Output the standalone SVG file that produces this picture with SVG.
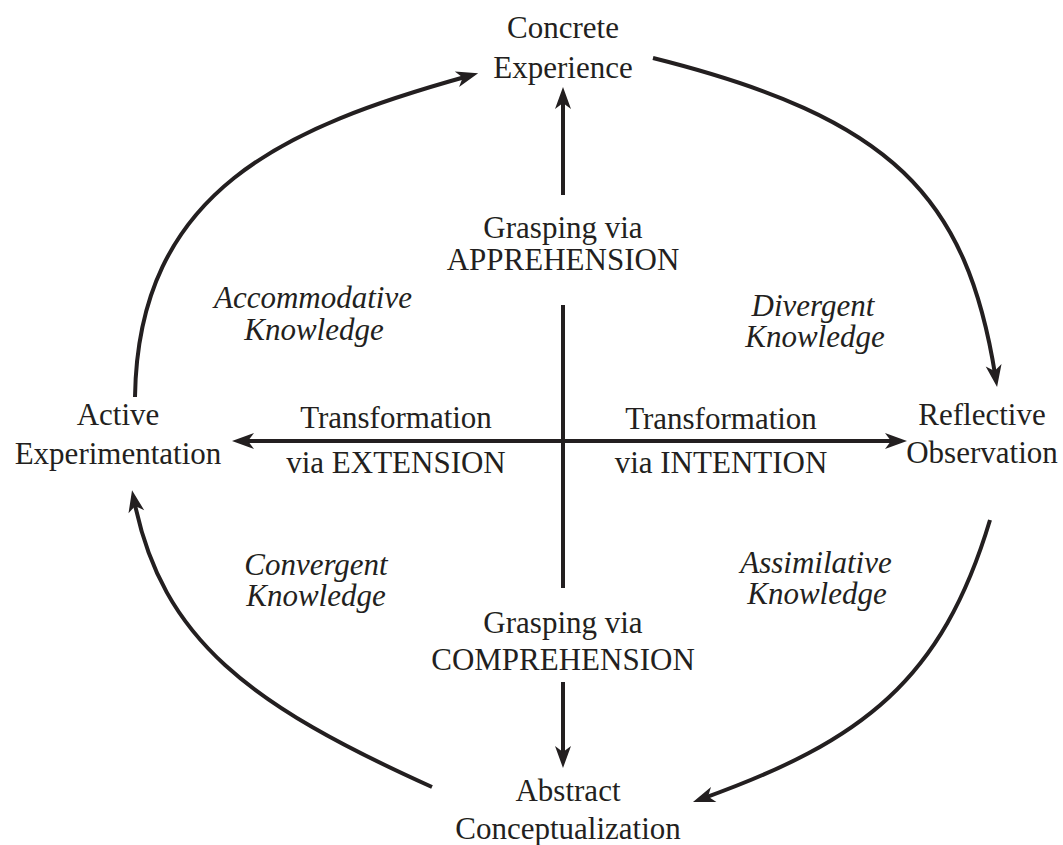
<svg xmlns="http://www.w3.org/2000/svg" width="1063" height="845" viewBox="0 0 1063 845">
  <style>
    text { font-family: "Liberation Serif", "Times New Roman", serif; font-size: 31px; fill: #231f20; text-anchor: middle; }
    .it { font-style: italic; }
    .conn { fill: none; stroke: #231f20; stroke-width: 4; }
    .arrow { marker-end: url(#head); }
  </style>
  <defs>
    <marker id="head" markerUnits="userSpaceOnUse" viewBox="-14 -10 26 20" markerWidth="26" markerHeight="20" refX="0" refY="0" orient="auto-start-reverse">
      <path d="M10,0 L-12,-8 L-6,0 L-12,8 Z" fill="#231f20"/>
    </marker>
  </defs>

  <rect width="1063" height="845" fill="#ffffff"/>

  <!-- connectors -->
  <g id="connectors">
    <!-- learning cycle arcs -->
    <path class="conn arrow" d="M135,397 C138,190 285,127 468.5,76"/>
    <path class="conn arrow" d="M653,58 C893,118 967,197 995.5,377"/>
    <path class="conn arrow" d="M990,520 C942,680 863,741 702.4,798.6"/>
    <path class="conn arrow" d="M432,787 C250,705 162,640 134,500"/>
    <!-- grasping axis -->
    <path class="conn arrow" d="M563,195 L563,97"/>
    <path class="conn" d="M563,305 L563,588"/>
    <path class="conn arrow" d="M563,682 L563,758"/>
    <!-- transformation axis -->
    <path class="conn" d="M242,441 L897,441" marker-start="url(#head)" marker-end="url(#head)"/>
  </g>

  <!-- modes of the cycle -->
  <g id="concrete-experience">
    <text x="563" y="38">Concrete</text>
    <text x="563" y="78">Experience</text>
  </g>
  <g id="reflective-observation">
    <text x="982" y="425">Reflective</text>
    <text x="982" y="463">Observation</text>
  </g>
  <g id="abstract-conceptualization">
    <text x="568" y="801">Abstract</text>
    <text x="568" y="839">Conceptualization</text>
  </g>
  <g id="active-experimentation">
    <text x="118" y="425">Active</text>
    <text x="118" y="464">Experimentation</text>
  </g>

  <!-- axis labels -->
  <g id="apprehension">
    <text x="563" y="238">Grasping via</text>
    <text x="563" y="270">APPREHENSION</text>
  </g>
  <g id="comprehension">
    <text x="563" y="633">Grasping via</text>
    <text x="563" y="670">COMPREHENSION</text>
  </g>
  <g id="extension">
    <text x="396" y="428">Transformation</text>
    <text x="396" y="473">via EXTENSION</text>
  </g>
  <g id="intention">
    <text x="721" y="429">Transformation</text>
    <text x="721" y="473">via INTENTION</text>
  </g>

  <!-- knowledge forms -->
  <g id="accommodative">
    <text class="it" x="313" y="308">Accommodative</text>
    <text class="it" x="314" y="340">Knowledge</text>
  </g>
  <g id="divergent">
    <text class="it" x="813" y="316">Divergent</text>
    <text class="it" x="815" y="347">Knowledge</text>
  </g>
  <g id="convergent">
    <text class="it" x="316" y="575">Convergent</text>
    <text class="it" x="316" y="606">Knowledge</text>
  </g>
  <g id="assimilative">
    <text class="it" x="816" y="573">Assimilative</text>
    <text class="it" x="817" y="604">Knowledge</text>
  </g>
</svg>
